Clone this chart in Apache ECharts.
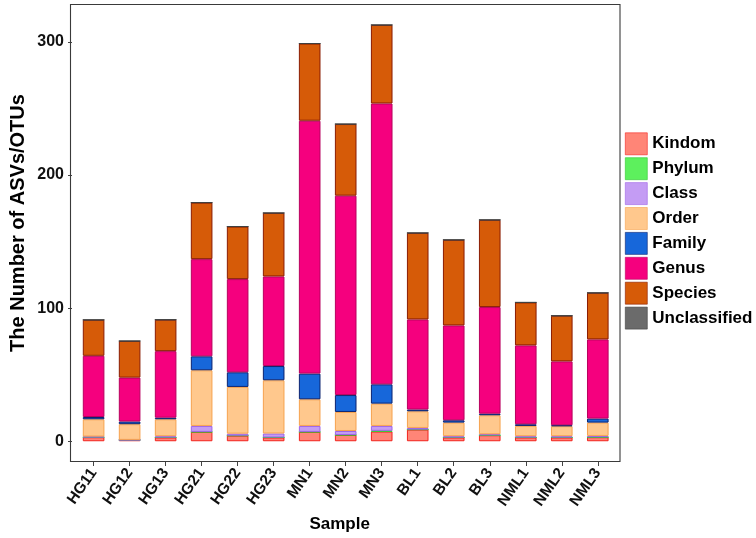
<!DOCTYPE html>
<html><head><meta charset="utf-8">
<script src="https://cdn.jsdelivr.net/npm/echarts@6/dist/echarts.min.js"></script>
<style>html,body{margin:0;padding:0;background:#fff}#c{width:756px;height:538px}</style>
</head><body><div id="c"></div>
<script>
const samples = ['HG11','HG12','HG13','HG21','HG22','HG23','MN1','MN2','MN3','BL1','BL2','BL3','NML1','NML2','NML3'];
const levels = ['Kindom','Phylum','Class','Order','Family','Genus','Species','Unclassified'];
const kindom       = [3, 1, 2.8, 7, 4.2, 2.8, 7, 4.7, 7.3, 8.75, 2.8, 4.5, 2.8, 2.8, 3];
const phylum       = [0, 0, 0, 0, 0, 0, 0, 0, 0.5, 0, 0, 0, 0, 0, 0];
const classLv      = [0.5, 0, 1, 4.5, 1.5, 3, 4.5, 3, 3.7, 1.25, 1, 0.75, 1, 1, 1];
const order        = [13, 11.8, 12.7, 41.8, 35.1, 40, 20, 14.3, 16.75, 12.5, 10.2, 14.25, 7.7, 7.5, 10];
const family       = [1.7, 2, 1.2, 10.5, 11, 10.7, 19.3, 12.7, 14.5, 1.3, 1.75, 1.2, 1.25, 0.7, 3];
const genus        = [46, 33, 50, 73, 70, 67.3, 190, 149.8, 211, 67.7, 71.25, 80.1, 59.25, 48, 59.5];
const species      = [27, 27.5, 23.6, 42.5, 39.5, 47.7, 58, 53.8, 59, 65, 64.3, 65.5, 32.3, 34.3, 35];
const unclassified = [0, 0, 0, 0, 0, 0, 0, 0, 0, 0, 0, 0, 0, 0, 0];
const yTicks = [0, 100, 200, 300];

const seriesData = [kindom, phylum, classLv, order, family, genus, species, unclassified];
const fills   = ['#FF8577','#5DF05D','#C49CF4','#FFC88D','#1767DA','#F5007E','#D65B08','#6B6B6B'];
const borders = ['#F2231E','#2FC82F','#9D63E6','#F6A24E','#0B2370','#B8005E','#8A1C02','#404040'];
const FONT = 'Arial, "Liberation Sans", sans-serif';

const chart = echarts.init(document.getElementById('c'), null, {renderer:'canvas'});
chart.setOption({
  animation: false,
  backgroundColor: '#ffffff',
  grid: {left: 74.3, right: 140.2, top: 4, bottom: 76, show: false, containLabel: false},
  graphic: [{
    type: 'rect', z: 100, silent: true,
    shape: {x: 70.5, y: 4.5, width: 549.5, height: 457},
    style: {fill: 'none', stroke: '#3a3a3a', lineWidth: 1.1}
  }],
  legend: {
    orient: 'vertical', left: 625, top: 132.5, padding: 0, itemWidth: 22, itemHeight: 22, itemGap: 2.3,
    icon: 'rect', data: levels,
    itemStyle: {borderWidth: 0.6},
    textStyle: {fontFamily: FONT, fontWeight: 'bold', fontSize: 17, color: '#000'}
  },
  xAxis: {
    type: 'category', data: samples, boundaryGap: true,
    splitLine: {show: false},
    axisLine: {show: false, onZero: false},
    axisTick: {show: true, alignWithLabel: true, length: 4, lineStyle: {color: '#444'}},
    axisLabel: {
      interval: 0, rotate: 55, margin: 8, fontFamily: FONT, fontWeight: 'bold', fontSize: 15.5, color: '#111'
    },
    name: 'Sample', nameLocation: 'middle', nameGap: 54, nameMoveOverlap: false,
    nameTextStyle: {fontFamily: FONT, fontWeight: 'bold', fontSize: 17, color: '#000', padding: [0,12,0,0]}
  },
  yAxis: {
    type: 'value', min: -15.6, max: 328.5, offset: 3.6,
    splitLine: {show: false},
    axisLine: {show: false, onZero: false},
    axisTick: {show: true, length: 4, lineStyle: {color: '#444'}, customValues: yTicks},
    axisLabel: {customValues: yTicks, margin: 8, fontFamily: FONT, fontWeight: 'bold', fontSize: 16, color: '#111'},
    name: 'The Number of ASVs/OTUs', nameLocation: 'middle', nameGap: 44, nameRotate: 90, nameMoveOverlap: false,
    nameTextStyle: {fontFamily: FONT, fontWeight: 'bold', fontSize: 20, color: '#000', padding: [0,0,0,20]}
  },
  series: levels.map((name, k) => ({
    name, type: 'bar', stack: 'total', barWidth: '60%',
    data: seriesData[k],
    itemStyle: {color: fills[k], borderColor: borders[k], borderWidth: 1},
    emphasis: {disabled: true}
  }))
});
</script></body></html>
